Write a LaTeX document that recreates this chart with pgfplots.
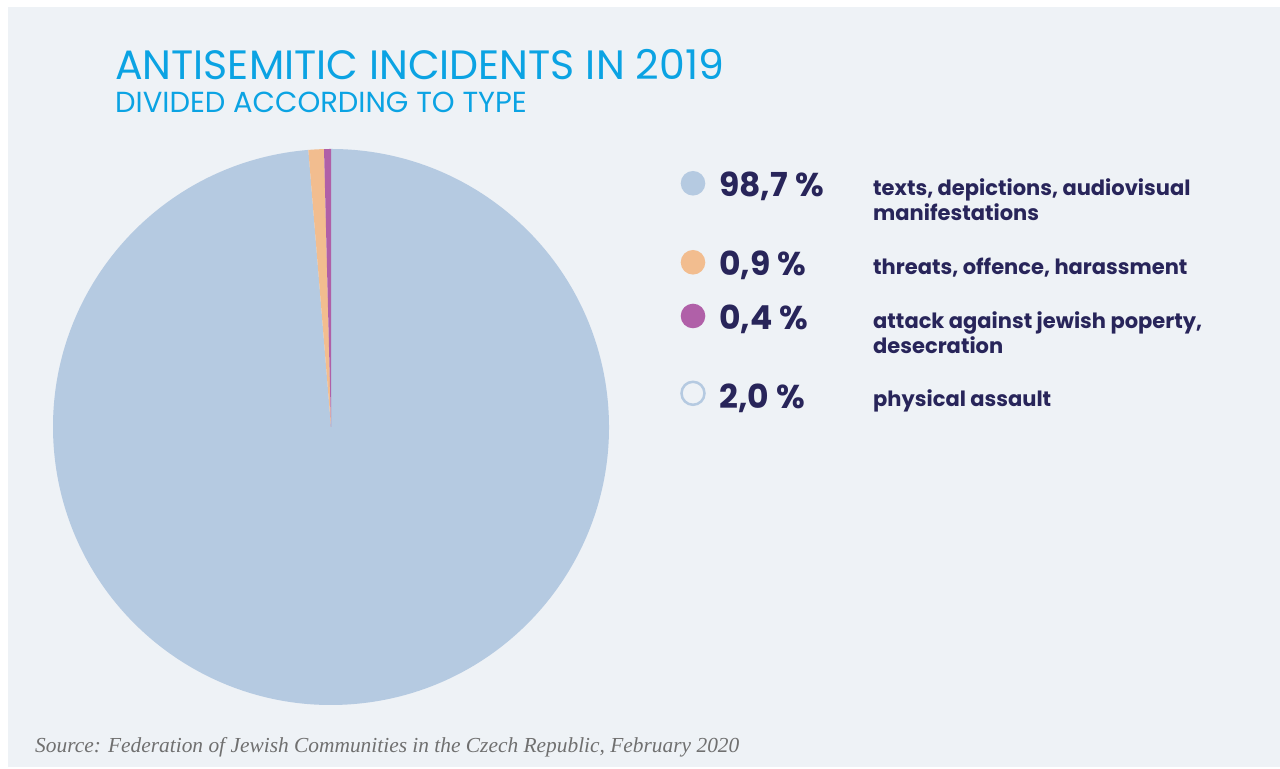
\documentclass[border=0pt]{standalone}
\usepackage{pgfplots}
\pgfplotsset{compat=1.18}
\usepackage{pgfplotstable}
\usepackage{fontspec}
\setmainfont{Poppins}
\newfontfamily\srcfont{Liberation Serif}
\definecolor{bg}{HTML}{EEF2F6}
\definecolor{ctitle}{HTML}{0BA3E3}
\definecolor{cnavy}{HTML}{28255A}
\definecolor{cblue}{HTML}{B5CAE1}
\definecolor{corange}{HTML}{F2BD8F}
\definecolor{cpurple}{HTML}{B060A8}
\definecolor{csrc}{HTML}{707070}

% share of incidents (%), drawn counter-clockwise from 12 o'clock
\pgfplotstableread{
share
0.4
0.9
98.7
}\piedata
\pgfplotstablegetelem{0}{share}\of\piedata \let\va\pgfplotsretval
\pgfplotstablegetelem{1}{share}\of\piedata \let\vb\pgfplotsretval
\pgfplotstablegetelem{2}{share}\of\piedata \let\vc\pgfplotsretval
\pgfmathsetmacro\aA{90}
\pgfmathsetmacro\aB{\aA+3.6*\va}
\pgfmathsetmacro\aC{\aB+3.6*\vb}
\pgfmathsetmacro\aD{\aC+3.6*\vc}

\begin{document}
\begin{tikzpicture}[x=1bp,y=1bp]
\path (0,0) rectangle (1280,769);
\fill[bg] (8,2) rectangle (1280,762);
% title
\node[anchor=base west,inner sep=0,text=ctitle] at (115,689)
  {\fontsize{41bp}{46bp}\selectfont ANTISEMITIC INCIDENTS IN 2019};
\node[anchor=base west,inner sep=0,text=ctitle] at (115,656)
  {\fontsize{29bp}{33bp}\selectfont DIVIDED ACCORDING TO TYPE};
% pie
\begin{axis}[at={(331bp,342bp)},anchor=center,width=556bp,height=556bp,
  scale only axis,hide axis,xmin=-1,xmax=1,ymin=-1,ymax=1]
\fill[cblue] (axis cs:0,0) -- (axis cs:{cos(\aC)},{sin(\aC)}) arc[start angle=\aC,end angle=\aD,radius=278bp] -- cycle;
\fill[corange] (axis cs:0,0) -- (axis cs:{cos(\aB)},{sin(\aB)}) arc[start angle=\aB,end angle=\aC,radius=278bp] -- cycle;
\fill[cpurple] (axis cs:0,0) -- (axis cs:{cos(\aA)},{sin(\aA)}) arc[start angle=\aA,end angle=\aB,radius=278bp] -- cycle;
\end{axis}
% legend
\fill[cblue] (693,585.7) circle (12.3);
\fill[corange] (693,506.7) circle (12.3);
\fill[cpurple] (693,453) circle (12.3);
\draw[cblue,line width=2.5bp,fill=bg] (693,375.7) circle (11.5);
\begin{scope}[every node/.style={anchor=base west,inner sep=0,text=cnavy}]
\node at (719,572.3) {\fontsize{33bp}{36bp}\selectfont\bfseries 98,7 \%};
\node at (719,493.7) {\fontsize{33bp}{36bp}\selectfont\bfseries 0,9 \%};
\node at (719,439.7) {\fontsize{33bp}{36bp}\selectfont\bfseries 0,4 \%};
\node at (719,360.3) {\fontsize{33bp}{36bp}\selectfont\bfseries 2,0 \%};
\node at (873,573) {\fontsize{21bp}{25bp}\selectfont\bfseries texts, depictions, audiovisual};
\node at (873,548) {\fontsize{21bp}{25bp}\selectfont\bfseries manifestations};
\node at (873,494) {\fontsize{21bp}{25bp}\selectfont\bfseries threats, offence, harassment};
\node at (873,440.7) {\fontsize{21bp}{25bp}\selectfont\bfseries attack against jewish poperty,};
\node at (873,415.7) {\fontsize{21bp}{25bp}\selectfont\bfseries desecration};
\node at (873,362.3) {\fontsize{21bp}{25bp}\selectfont\bfseries physical assault};
\end{scope}
% source
\node[anchor=base west,inner sep=0,text=csrc] at (35,16)
  {\srcfont\itshape\fontsize{21.4bp}{24bp}\selectfont Source: Federation of Jewish Communities in the Czech Republic, February 2020};
\end{tikzpicture}
\end{document}
